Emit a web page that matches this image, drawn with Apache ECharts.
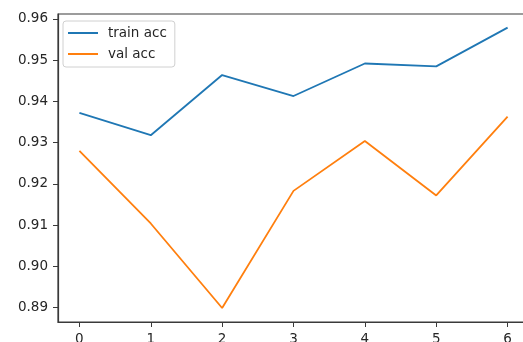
<!DOCTYPE html>
<html>
<head>
<meta charset="utf-8">
<script src="https://cdn.jsdelivr.net/npm/echarts@6/dist/echarts.min.js"></script>
<style>
  html, body { margin: 0; padding: 0; background: #fff; }
  #chart { width: 523px; height: 342px; }
</style>
</head>
<body>
<div id="chart"></div>
<script>
// epochs on the x axis
const epochs = [0, 1, 2, 3, 4, 5, 6];
const trainAcc = [0.9372, 0.9318, 0.9464, 0.9413, 0.9492, 0.9485, 0.9579];
const valAcc = [0.9280, 0.9104, 0.8899, 0.9183, 0.9304, 0.9172, 0.9363];
const yTicks = [0.89, 0.90, 0.91, 0.92, 0.93, 0.94, 0.95, 0.96];

const font = 'DejaVu Sans';
const axisColor = '#3a3a3a';
const textColor = '#262626';

const chart = echarts.init(document.getElementById('chart'));

const option = {
  backgroundColor: '#fff',
  animation: false,
  grid: {
    // plot runs past the right edge of the picture (cropped)
    left: 58, width: 471, top: 14, bottom: 20,
    outerBoundsMode: 'none',
    containLabel: false,
    show: true, borderColor: axisColor, borderWidth: 1.2,
    backgroundColor: 'transparent'
  },
  legend: {
    orient: 'vertical',
    left: 63, top: 21,
    icon: 'rect',
    itemWidth: 30, itemHeight: 2,
    itemGap: 5,
    padding: [4, 8, 5, 5],
    borderColor: '#d0d0d0', borderWidth: 1, borderRadius: 3,
    backgroundColor: 'rgba(255,255,255,0.8)',
    textStyle: {
      fontFamily: font, fontSize: 13.5, color: textColor,
      lineHeight: 16, padding: [0, 0, 0, 5]
    },
    data: ['train acc', 'val acc']
  },
  xAxis: {
    type: 'value',
    min: -0.3, max: 6.3,
    splitLine: { show: false },
    axisLine: { show: true, onZero: false, lineStyle: { color: axisColor, width: 1.2 } },
    axisTick: { show: true, length: 5, customValues: epochs, lineStyle: { color: axisColor } },
    axisLabel: {
      customValues: epochs, margin: 10,
      fontFamily: font, fontSize: 13.5, color: textColor
    }
  },
  yAxis: {
    type: 'value',
    min: 0.8865, max: 0.9612,
    splitLine: { show: false },
    axisLine: { show: true, onZero: false, lineStyle: { color: axisColor, width: 1.2 } },
    axisTick: { show: true, length: 5, customValues: yTicks, lineStyle: { color: axisColor } },
    axisLabel: {
      customValues: yTicks, margin: 10,
      fontFamily: font, fontSize: 13.5, color: textColor,
      formatter: v => v.toFixed(2)
    }
  },
  series: [
    {
      name: 'train acc', type: 'line', showSymbol: false,
      color: '#1f77b4',
      lineStyle: { width: 1.8 },
      data: epochs.map((e, i) => [e, trainAcc[i]])
    },
    {
      name: 'val acc', type: 'line', showSymbol: false,
      color: '#ff7f0e',
      lineStyle: { width: 1.8 },
      data: epochs.map((e, i) => [e, valAcc[i]])
    }
  ]
};
chart.setOption(option);
</script>
</body>
</html>
